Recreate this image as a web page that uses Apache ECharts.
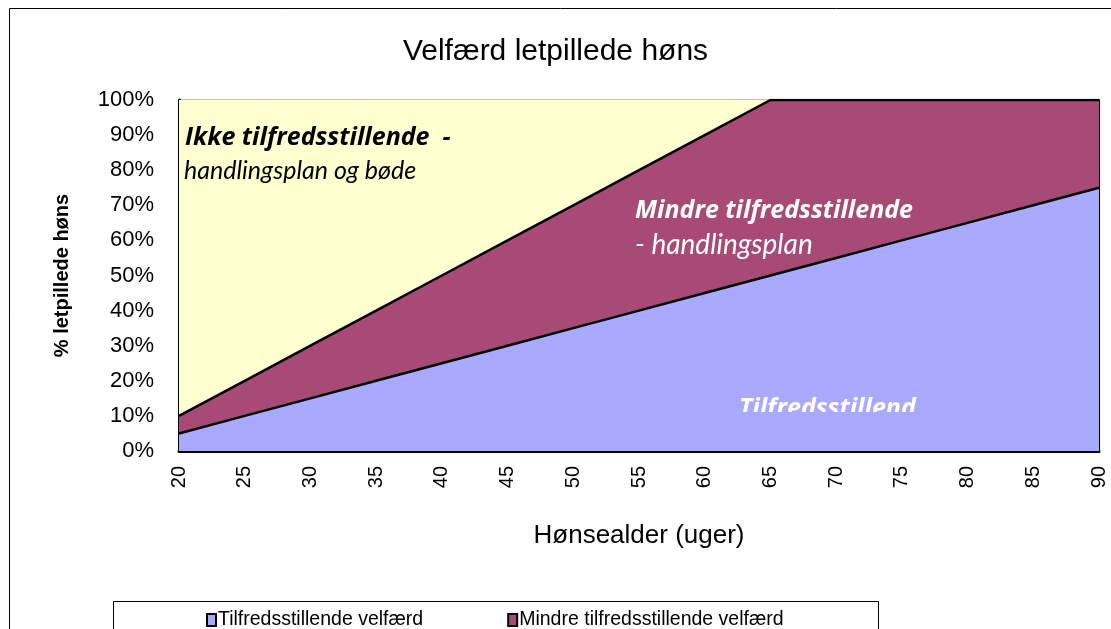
<!DOCTYPE html>
<html>
<head>
<meta charset="utf-8">
<script src="https://cdn.jsdelivr.net/npm/echarts@6/dist/echarts.min.js"></script>
<style>
  html, body { margin: 0; padding: 0; background: #fff; }
  #chart { width: 1111px; height: 629px; }
</style>
</head>
<body>
<div id="chart"></div>
<script>
var myChart = echarts.init(document.getElementById('chart'));

// hønsealder i uger
var ages = ['20', '25', '30', '35', '40', '45', '50', '55', '60', '65', '70', '75', '80', '85', '90'];
// andel (%) – stablet nedefra
var tilfreds = [5, 10, 15, 20, 25, 30, 35, 40, 45, 50, 55, 60, 65, 70, 75];
var mindre   = [5, 10, 15, 20, 25, 30, 35, 40, 45, 50, 45, 40, 35, 30, 25];
var ikke     = [90, 80, 70, 60, 50, 40, 30, 20, 10, 0, 0, 0, 0, 0, 0];

var seriesNames = ['Tilfredsstillende velfærd', 'Mindre tilfredsstillende velfærd', 'Ikke tilfredsstillende velfærd'];

var blue = '#a9aaff';
var red = '#a84a76';
var yellow = '#ffffd0';
var font = 'Liberation Sans, Arial, sans-serif';
var noteFont = 'Lato, "Open Sans", sans-serif';
var boldFont = '"Open Sans", Lato, sans-serif';

option = {
    animation: false,
    backgroundColor: '#fff',
    title: {
        text: 'Velfærd letpillede høns',
        left: 'center',
        top: 32,
        textStyle: { fontFamily: font, fontSize: 30, fontWeight: 'normal', color: '#000' }
    },
    grid: {
        left: 179,
        right: 12,
        top: 100,
        bottom: 178,
        show: true,
        borderColor: '#808080',
        borderWidth: 1
    },
    legend: {
        data: [seriesNames[0], seriesNames[1]],
        left: 201,
        top: 605,
        icon: 'rect',
        itemWidth: 9,
        itemHeight: 12,
        itemGap: 84,
        textStyle: { fontFamily: font, fontSize: 19.5, color: '#000', padding: [0, 0, 0, -3] },
        itemStyle: { borderColor: '#000', borderWidth: 2 }
    },
    xAxis: {
        type: 'category',
        data: ages,
        boundaryGap: false,
        name: 'Hønsealder (uger)',
        nameLocation: 'middle',
        nameGap: 72,
        nameTextStyle: { fontFamily: font, fontSize: 26, color: '#000' },
        axisLine: { show: true, lineStyle: { color: '#000', width: 3 } },
        axisTick: { show: false },
        splitLine: { show: false },
        axisLabel: { interval: 0, rotate: 90, margin: 15, fontFamily: font, fontSize: 20, color: '#000' }
    },
    yAxis: [{
        type: 'value',
        min: 0,
        max: 100,
        interval: 10,
        name: '% letpillede høns',
        nameLocation: 'middle',
        nameGap: 107,
        nameTextStyle: { fontFamily: font, fontSize: 20, fontWeight: 'bold', color: '#000' },
        axisLine: { show: true, lineStyle: { color: '#000', width: 3 } },
        axisTick: { show: false },
        splitLine: { show: false },
        axisLabel: { margin: 25, fontFamily: font, fontSize: 22, color: '#000', formatter: '{value}%' }
    }, {
        type: 'value',
        min: 0,
        max: 100,
        position: 'right',
        axisLine: { show: true, lineStyle: { color: '#000', width: 2 } },
        axisTick: { show: false },
        axisLabel: { show: false },
        splitLine: { show: false }
    }],
    series: [{
        name: seriesNames[0],
        type: 'line',
        stack: 'total',
        data: tilfreds,
        showSymbol: false,
        itemStyle: { color: blue },
        lineStyle: { color: '#000', width: 2.5 },
        areaStyle: { color: blue, opacity: 1 }
    }, {
        name: seriesNames[1],
        type: 'line',
        stack: 'total',
        data: mindre,
        showSymbol: false,
        itemStyle: { color: red },
        lineStyle: { color: '#000', width: 2.5 },
        areaStyle: { color: red, opacity: 1 }
    }, {
        name: seriesNames[2],
        type: 'line',
        stack: 'total',
        data: ikke,
        showSymbol: false,
        itemStyle: { color: yellow },
        lineStyle: { width: 0 },
        areaStyle: { color: yellow, opacity: 1 }
    }],
    graphic: [
        // ydre ramme
        { type: 'rect', z: 100, silent: true,
          shape: { x: 9.5, y: 8.5, width: 1120, height: 640 },
          style: { fill: 'none', stroke: '#000', lineWidth: 1 } },
        // legend-ramme
        { type: 'rect', z: 100, silent: true,
          shape: { x: 113.5, y: 601.5, width: 765, height: 60 },
          style: { fill: 'none', stroke: '#000', lineWidth: 1 } },
        { type: 'text', z: 100, silent: true,
          style: { text: 'Ikke tilfredsstillende  -', x: 185, y: 138, verticalAlign: 'middle',
                   fontFamily: boldFont, fontSize: 25, fontWeight: 'bold', fontStyle: 'italic', fill: '#000' } },
        { type: 'text', z: 100, silent: true,
          style: { text: 'handlingsplan og bøde', x: 184, y: 171, verticalAlign: 'middle',
                   fontFamily: noteFont, fontSize: 25, fontStyle: 'italic', fill: '#000' } },
        { type: 'text', z: 100, silent: true,
          style: { text: 'Mindre tilfredsstillende', x: 635, y: 211, verticalAlign: 'middle',
                   fontFamily: boldFont, fontSize: 25, fontWeight: 'bold', fontStyle: 'italic', fill: '#fff' } },
        { type: 'text', z: 100, silent: true,
          style: { text: '- handlingsplan', x: 635, y: 245, verticalAlign: 'middle',
                   fontFamily: noteFont, fontSize: 28, fontStyle: 'italic', fill: '#fff' } },
        { type: 'text', z: 100, silent: true,
          style: { text: 'Tilfredsstillend', x: 739, y: 409, verticalAlign: 'middle',
                   fontFamily: boldFont, fontSize: 25, fontWeight: 'bold', fontStyle: 'italic', fill: '#fff' } },
        // tekstfeltet er afskåret forneden
        { type: 'rect', z: 101, silent: true,
          shape: { x: 730, y: 412, width: 200, height: 20 },
          style: { fill: blue } }
    ]
};

myChart.setOption(option);
</script>
</body>
</html>
